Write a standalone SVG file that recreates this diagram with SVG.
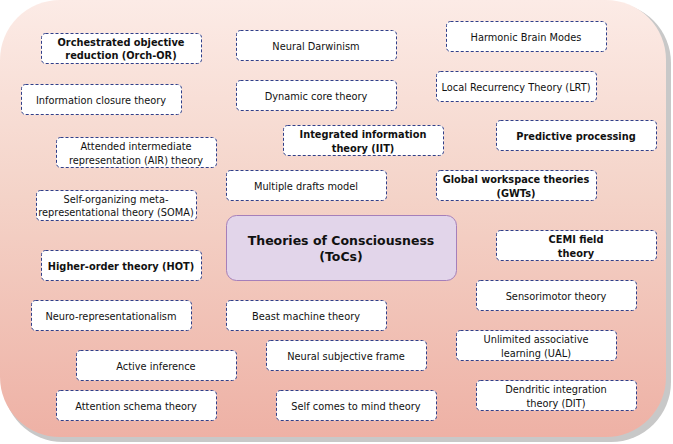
<svg xmlns="http://www.w3.org/2000/svg" width="673" height="444" viewBox="0 0 673 444">
<defs>
<linearGradient id="bg" x1="0" y1="0" x2="0" y2="1">
<stop offset="0" stop-color="#fcebe6"/><stop offset="0.45" stop-color="#f4d3c8"/><stop offset="1" stop-color="#eeb1a5"/>
</linearGradient>
<style>
.n rect{fill:#fff;stroke:#2f3f8a;stroke-width:1;stroke-dasharray:3 2}
text{font-family:"DejaVu Sans",Verdana,sans-serif;font-size:9.8px;fill:#111;text-anchor:middle}
.b{font-weight:bold;font-size:9.8px}
.c{font-weight:bold;font-size:12.5px}
</style>
</defs>
<rect x="3" y="3" width="668" height="439" rx="60" fill="#c8c8c8"/>
<rect x="0" y="0" width="666" height="437" rx="60" fill="url(#bg)"/>
<g id="center"><rect x="226.5" y="215.5" width="230" height="65" rx="10" fill="#e2d5ea" stroke="#a57fba"/><text class="c" x="341" y="245">Theories of Consciousness</text><text class="c" x="341" y="261">(ToCs)</text></g>
<g id="orch" class="n"><rect x="41.5" y="33.5" width="160" height="30" rx="4"/><text class="b" x="121" y="46">Orchestrated objective</text><text class="b" x="121" y="59">reduction (Orch-OR)</text></g>
<g id="nd" class="n"><rect x="236.5" y="30.5" width="160" height="30" rx="4"/><text x="316" y="50">Neural Darwinism</text></g>
<g id="hbm" class="n"><rect x="446.5" y="21.5" width="160" height="30" rx="4"/><text x="526" y="41">Harmonic Brain Modes</text></g>
<g id="ict" class="n"><rect x="21.5" y="84.5" width="160" height="30" rx="4"/><text x="101" y="104">Information closure theory</text></g>
<g id="dct" class="n"><rect x="236.5" y="80.5" width="160" height="30" rx="4"/><text x="316" y="100">Dynamic core theory</text></g>
<g id="lrt" class="n"><rect x="436.5" y="71.5" width="160" height="30" rx="4"/><text x="516" y="91">Local Recurrency Theory (LRT)</text></g>
<g id="air" class="n"><rect x="56.5" y="137.5" width="160" height="30" rx="4"/><text x="136" y="150">Attended intermediate</text><text x="136" y="164">representation (AIR) theory</text></g>
<g id="iit" class="n"><rect x="283.5" y="125.5" width="160" height="30" rx="4"/><text class="b" x="363" y="138">Integrated information</text><text class="b" x="363" y="152">theory (IIT)</text></g>
<g id="pp" class="n"><rect x="496.5" y="120.5" width="160" height="30" rx="4"/><text class="b" x="576" y="140">Predictive processing</text></g>
<g id="soma" class="n"><rect x="36.5" y="190.5" width="160" height="30" rx="4"/><text x="116" y="203">Self-organizing meta-</text><text x="116" y="216">representational theory (SOMA)</text></g>
<g id="mdm" class="n"><rect x="226.5" y="170.5" width="160" height="30" rx="4"/><text x="306" y="190">Multiple drafts model</text></g>
<g id="gwt" class="n"><rect x="436.5" y="170.5" width="160" height="30" rx="4"/><text class="b" x="516" y="183">Global workspace theories</text><text class="b" x="516" y="197">(GWTs)</text></g>
<g id="cemi" class="n"><rect x="496.5" y="230.5" width="160" height="30" rx="4"/><text class="b" x="576" y="243">CEMI field</text><text class="b" x="576" y="257">theory</text></g>
<g id="hot" class="n"><rect x="41.5" y="250.5" width="160" height="30" rx="4"/><text class="b" x="121" y="270">Higher-order theory (HOT)</text></g>
<g id="smt" class="n"><rect x="476.5" y="280.5" width="160" height="30" rx="4"/><text x="556" y="300">Sensorimotor theory</text></g>
<g id="nr" class="n"><rect x="31.5" y="300.5" width="160" height="30" rx="4"/><text x="111" y="320">Neuro-representationalism</text></g>
<g id="bm" class="n"><rect x="226.5" y="300.5" width="160" height="30" rx="4"/><text x="306" y="320">Beast machine theory</text></g>
<g id="ual" class="n"><rect x="456.5" y="330.5" width="160" height="30" rx="4"/><text x="536" y="343">Unlimited associative</text><text x="536" y="357">learning (UAL)</text></g>
<g id="ai" class="n"><rect x="76.5" y="350.5" width="160" height="30" rx="4"/><text x="156" y="370">Active inference</text></g>
<g id="nsf" class="n"><rect x="266.5" y="340.5" width="160" height="30" rx="4"/><text x="346" y="360">Neural subjective frame</text></g>
<g id="dit" class="n"><rect x="476.5" y="380.5" width="160" height="30" rx="4"/><text x="556" y="393">Dendritic integration</text><text x="556" y="407">theory (DIT)</text></g>
<g id="ast" class="n"><rect x="56.5" y="390.5" width="160" height="30" rx="4"/><text x="136" y="410">Attention schema theory</text></g>
<g id="scm" class="n"><rect x="276.5" y="390.5" width="160" height="30" rx="4"/><text x="356" y="410">Self comes to mind theory</text></g>
<g id="connectors"/>
</svg>
